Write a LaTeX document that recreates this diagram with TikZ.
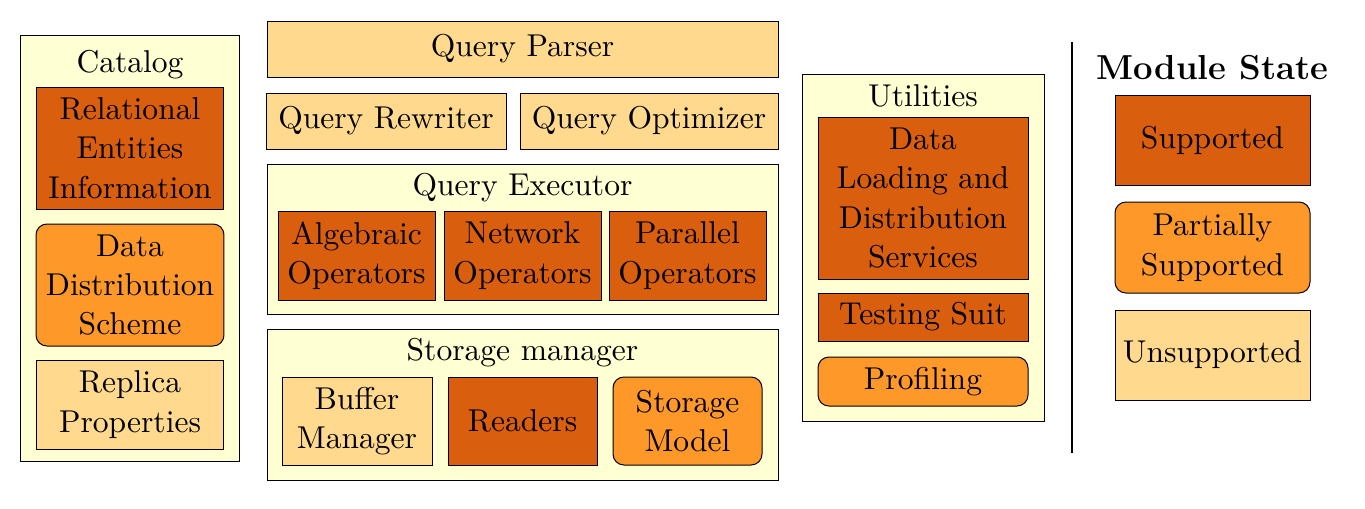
\documentclass[tikz,border=0pt]{standalone}
\definecolor{cbg}{HTML}{FFFFD4}
\definecolor{csup}{HTML}{D95F0E}
\definecolor{cpart}{HTML}{FE9929}
\definecolor{cuns}{HTML}{FED98E}
\begin{document}
\begin{tikzpicture}[x=0.32pt,y=-0.32pt,
  every node/.style={align=center,font=\fontsize{10.1}{12.6}\selectfont},
  box/.style={draw,inner sep=0pt,line width=0.32pt,anchor=center},
  cont/.style={box,fill=cbg},
  sup/.style={box,fill=csup},
  part/.style={box,fill=cpart,rounded corners=3.5pt},
  uns/.style={box,fill=cuns},
  ttl/.style={inner sep=0pt}]
\useasboundingbox (0,0) rectangle (1365,508);
% Catalog
\node[cont,minimum width=70.4pt,minimum height=136.32pt] (catalog) at (130,248) {};
\node[ttl] (catalogT) at (130,65) {Catalog};
\node[sup,minimum width=60.16pt,minimum height=39.04pt] (rel) at (130,148) {Relational\\Entities\\Information};
\node[part,minimum width=60.16pt,minimum height=39.04pt] (dds) at (130,285) {Data\\Distribution\\Scheme};
\node[uns,minimum width=60.16pt,minimum height=28.48pt] (rep) at (130,404.5) {Replica\\Properties};
% Query
\node[uns,minimum width=163.52pt,minimum height=17.92pt] (parser) at (522.5,49) {Query Parser};
\node[uns,minimum width=76.8pt,minimum height=17.92pt] (rewriter) at (386,121) {Query Rewriter};
\node[uns,minimum width=82.56pt,minimum height=17.92pt] (optimizer) at (649,121) {Query Optimizer};
\node[cont,minimum width=163.52pt,minimum height=48pt] (executor) at (522.5,239) {};
\node[ttl] (executorT) at (522.5,188) {Query Executor};
\node[sup,minimum width=50.24pt,minimum height=28.48pt] (alg) at (356.5,255.5) {Algebraic\\Operators};
\node[sup,minimum width=50.24pt,minimum height=28.48pt] (net) at (522.5,255.5) {Network\\Operators};
\node[sup,minimum width=50.24pt,minimum height=28.48pt] (par) at (687.5,255.5) {Parallel\\Operators};
\node[cont,minimum width=163.52pt,minimum height=48.32pt] (storage) at (522.5,404.5) {};
\node[ttl] (storageT) at (522.5,353) {Storage manager};
\node[uns,minimum width=48pt,minimum height=28.16pt] (buf) at (357,421) {Buffer\\Manager};
\node[sup,minimum width=47.68pt,minimum height=28.16pt] (readers) at (522.5,421) {Readers};
\node[part,minimum width=47.68pt,minimum height=28.16pt] (smodel) at (687.5,421) {Storage\\Model};
% Utilities
\node[cont,minimum width=77.44pt,minimum height=111.04pt] (util) at (923,247.5) {};
\node[ttl] (utilT) at (923,96) {Utilities};
\node[sup,minimum width=67.2pt,minimum height=51.84pt] (dls) at (923,198) {Data\\Loading and\\Distribution\\Services};
\node[sup,minimum width=67.2pt,minimum height=15.36pt] (test) at (923,317) {Testing Suit};
\node[part,minimum width=67.2pt,minimum height=15.68pt] (prof) at (923,381.5) {Profiling};
% Legend
\coordinate (lt) at (1072,42);
\coordinate (lb) at (1072,453);
\draw[line width=0.9pt] (lt) -- (lb);
\node[ttl,font=\fontsize{11.1}{13}\selectfont\bfseries] (legT) at (1212.5,68) {Module State};
\node[sup,minimum width=62.4pt,minimum height=28.8pt] (lsup) at (1212.5,140) {Supported};
\node[part,minimum width=62.4pt,minimum height=29.12pt] (lpart) at (1212.5,247.5) {Partially\\Supported};
\node[uns,minimum width=62.4pt,minimum height=28.8pt] (luns) at (1212.5,355) {Unsupported};
\end{tikzpicture}
\end{document}
